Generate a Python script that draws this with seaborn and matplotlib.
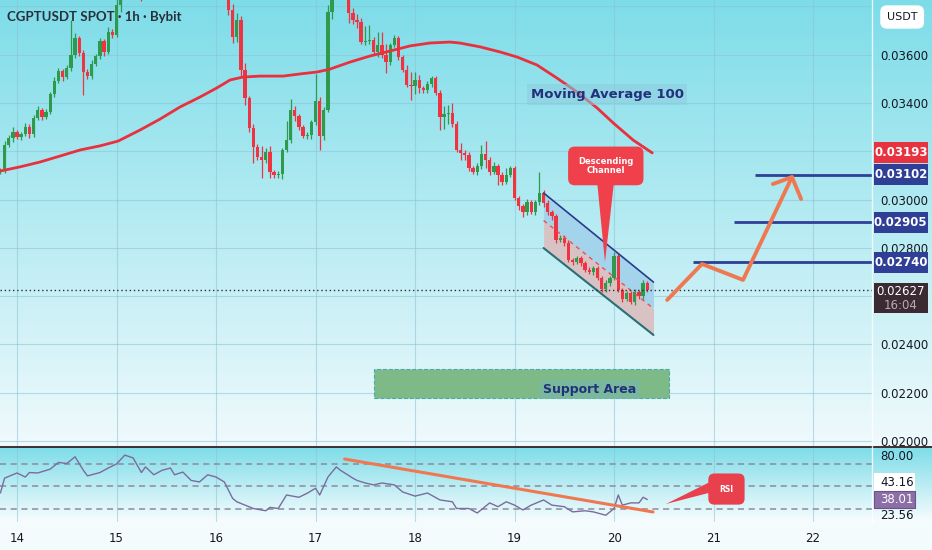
import matplotlib
matplotlib.use("Agg")
import matplotlib.pyplot as plt
import numpy as np
import seaborn as sns
from matplotlib.patches import Rectangle, Polygon
from matplotlib.lines import Line2D
from matplotlib.transforms import blended_transform_factory

sns.set_style("white")
plt.rcParams['font.family'] = ['DejaVu Sans']

# ---- data (prices in 1e-5 USDT, hours counted from day 14 00:00) ----
first_open_e5 = 3115
close_e5 = [
    3122, 3226, 3255, 3280, 3259, 3271, 3300, 3271, 3338, 3371,
    3342, 3362, 3437, 3491, 3532, 3507, 3545, 3598, 3669, 3607,
    3528, 3511, 3561, 3594, 3656, 3611, 3694, 3681, 3805, 3909,
    3950, 3990, 4020, 3980, 3940, 3970, 4010, 4060, 4100, 4080,
    4120, 4150, 4110, 4090, 4130, 4170, 4140, 4100, 4060, 4020,
    3990, 3960, 3930, 3900, 3880, 3785, 3673, 3743, 3536, 3420,
    3296, 3217, 3176, 3164, 3197, 3114, 3102, 3106, 3205, 3246,
    3371, 3346, 3300, 3263, 3267, 3321, 3408, 3263, 3371, 3776,
    3888, 3950, 3930, 3868, 3772, 3743, 3735, 3652, 3655, 3661,
    3611, 3640, 3598, 3569, 3640, 3669, 3590, 3536, 3474, 3470,
    3495, 3462, 3453, 3478, 3503, 3441, 3342, 3354, 3358, 3313,
    3205, 3193, 3184, 3130, 3114, 3139, 3188, 3164, 3114, 3139,
    3102, 3073, 3102, 3130, 3006, 2973, 2948, 2990, 2948, 2990,
    3027, 2986, 2948, 2932, 2832, 2841, 2820, 2750, 2741, 2758,
    2737, 2708, 2700, 2716, 2675, 2629, 2654, 2675, 2766, 2625,
    2588, 2613, 2576, 2617, 2600, 2654, 2627,
]
wick_hi_e5 = [
    10, 15, 12, 20, 8, 10, 15, 12, 10, 18,
    8, 12, 10, 15, 12, 10, 14, 145, 20, 8,
    10, 12, 15, 10, 12, 8, 20, 10, 40, 30,
    30, 30, 30, 30, 30, 30, 30, 30, 30, 30,
    30, 30, 30, 30, 30, 30, 30, 30, 30, 30,
    30, 30, 30, 30, 30, 40, 25, 30, 15, 30,
    10, 15, 12, 45, 15, 25, 10, 12, 8, 80,
    45, 15, 10, 8, 12, 10, 110, 15, 10, 30,
    30, 30, 30, 30, 40, 20, 25, 15, 65, 62,
    12, 55, 55, 45, 10, 12, 10, 10, 20, 55,
    33, 20, 10, 12, 10, 8, 12, 35, 33, 40,
    10, 29, 10, 12, 8, 12, 37, 54, 10, 15,
    10, 12, 29, 10, 10, 8, 10, 12, 10, 10,
    87, 12, 10, 10, 10, 12, 10, 12, 8, 10,
    10, 10, 12, 8, 10, 10, 12, 10, 16, 12,
    10, 8, 10, 12, 8, 12, 10,
]
wick_lo_e5 = [
    10, 12, 10, 15, 8, 12, 10, 15, 12, 10,
    12, 8, 10, 12, 10, 15, 10, 12, 10, 12,
    95, 10, 12, 10, 12, 15, 10, 12, 10, 30,
    30, 30, 30, 30, 120, 30, 30, 30, 30, 30,
    30, 30, 30, 30, 30, 30, 30, 30, 30, 30,
    30, 30, 30, 30, 30, 20, 25, 20, 25, 29,
    15, 66, 12, 75, 12, 25, 15, 12, 20, 10,
    12, 20, 12, 10, 12, 15, 12, 58, 15, 10,
    30, 30, 30, 30, 40, 15, 25, 10, 12, 10,
    12, 20, 12, 45, 12, 10, 12, 10, 10, 60,
    35, 20, 12, 10, 12, 10, 55, 50, 40, 12,
    10, 29, 20, 12, 10, 12, 12, 33, 12, 10,
    40, 12, 10, 10, 10, 17, 20, 12, 10, 12,
    12, 15, 12, 15, 12, 10, 12, 10, 12, 10,
    12, 10, 10, 12, 10, 10, 12, 12, 10, 10,
    12, 10, 10, 12, 10, 12, 10,
]

ma_hours = [-4, 0.7, 5.5, 10.4, 15.2, 20, 24.4, 29.7, 34.5, 39.3, 44.1, 48.2, 51.4,
            54.5, 58.6, 64.2, 68.3, 72.4, 75.5, 80.3, 85.1, 90, 94.8, 99.6, 104.4,
            106.8, 111.7, 116.5, 120.6, 125.4, 130.2, 135.1, 139.9, 143.8, 148.6, 153.2]
ma_e5 = [3118, 3135, 3155, 3180, 3205, 3222, 3242, 3288, 3333, 3383, 3424, 3462, 3495,
         3507, 3511, 3511, 3520, 3528, 3540, 3569, 3594, 3615, 3636, 3648, 3652,
         3648, 3632, 3611, 3590, 3557, 3503, 3445, 3379, 3317, 3246, 3193]

rsi_hours = [-4, -3, 0, 2, 3, 5, 8, 10, 12, 14, 16, 17, 20, 22, 24, 26, 28, 30, 31, 33,
             35, 37, 38, 40, 42, 44, 46, 48, 50, 52, 53, 55, 57, 60, 61, 63, 65, 68, 70, 72,
             73, 75, 77, 78, 81, 82, 84, 86, 88, 91, 93, 96, 99, 102, 105, 106, 109, 111,
             114, 116, 118, 120, 122, 124, 127, 129, 132, 134, 137, 139, 142, 144, 145,
             146, 148, 150, 151, 152]
rsi_values = [43.8, 57, 61.6, 58, 62, 61.6, 65, 71, 70, 76, 64, 59, 62, 66, 69.6, 77.5,
              75, 62, 67, 60, 64, 66, 60, 62.4, 55, 53.6, 60, 58, 53.6, 39, 36, 33, 30,
              28, 31, 30, 42, 40, 43.6, 48, 42, 58, 67, 64, 57, 55, 52.7, 51, 52.7, 51,
              44.7, 41, 43.8, 37.6, 36, 30, 30, 26, 35, 31.6, 36, 33, 28.7, 33, 37.6, 33,
              31.6, 27, 28, 27, 24, 30, 42, 33, 35, 35, 40, 38.01]
rsi_levels = [70, 50, 30]
rsi_trend_hours = [79, 153.4]
rsi_trend_values = [74, 26.9]

day_labels = ['14', '15', '16', '17', '18', '19', '20', '21', '22']
day_hours = [0, 24, 48, 72, 96, 120, 144, 168, 192]

channel_hours = [127, 153.5]
channel_upper = [0.03027, 0.02658]
channel_lower = [0.02799, 0.02439]

targets = [0.03102, 0.02905, 0.02740]
target_start = [178, 172.9, 163.1]
path_hours = [156.8, 165.2, 175.1, 186.9]
path_prices = [0.02584, 0.02733, 0.02667, 0.03093]
arrow_hours = [182.3, 186.9, 189.1]
arrow_prices = [0.03064, 0.03093, 0.03002]

support_hours = [86.1, 157.3]
support_prices = [0.0218, 0.0230]

last_price = 0.02627
ma_last = 0.03193

# ---- derived series ----
close = np.array(close_e5) / 1e5
opens = np.concatenate([[first_open_e5 / 1e5], close[:-1]])
highs = np.maximum(opens, close) + np.array(wick_hi_e5) / 1e5
lows = np.minimum(opens, close) - np.array(wick_lo_e5) / 1e5
hours = np.arange(len(close)) - 4
ma = np.array(ma_e5) / 1e5
channel_mid = [(u + l) / 2 for u, l in zip(channel_upper, channel_lower)]

GREEN = '#2f9a4c'
RED = '#ef3340'
NAVY = '#2f3f96'
ORANGE = '#f07850'
TXT = '#131722'
XL = (-4.1, 206.2)

fig = plt.figure(figsize=(9.32, 5.5), dpi=100)
fig.patch.set_facecolor('#f4fbfc')


def gradient(rect, top, bottom):
    bg = fig.add_axes(rect, zorder=0)
    g = np.linspace(0, 1, 256)[:, None, None]
    cols = np.array(top)[None, None, :] * (1 - g) + np.array(bottom)[None, None, :] * g
    bg.imshow(cols, aspect='auto', extent=[0, 1, 0, 1])
    bg.axis('off')


main_rect = [0, 1 - 446 / 550, 872 / 932, 446 / 550]
rsi_rect = [0, 1 - 522 / 550, 872 / 932, 75 / 550]
gradient([0, main_rect[1], 1, main_rect[3]], (0.49, 0.865, 0.912), (0.94, 0.98, 0.99))
gradient([0, rsi_rect[1], 1, rsi_rect[3]], (0.49, 0.865, 0.912), (0.97, 0.99, 0.995))

# ---- main price pane ----
ax = fig.add_axes(main_rect, zorder=2)
ax.patch.set_alpha(0)
ax.set_xlim(*XL)
ax.set_ylim(0.019793, 0.038261)
for s in ax.spines.values():
    s.set_visible(False)

yt = np.round(np.arange(0.020, 0.0381, 0.002), 3)
ax.set_yticks(yt)
ax.set_yticklabels(['0.02000', '0.02200', '0.02400', '', '0.02800', '0.03000', '',
                    '0.03400', '0.03600', ''])
ax.yaxis.tick_right()
ax.tick_params(axis='y', length=0, pad=6, labelsize=8.5, labelcolor=TXT)
ax.set_xticks(day_hours)
ax.set_xticklabels([])
ax.tick_params(axis='x', length=0)
ax.grid(True, color=(0.55, 0.76, 0.83), lw=0.8, alpha=0.55)
ax.set_axisbelow(True)

# channel fill (under candles)
ax.fill_between(channel_hours, channel_upper, channel_mid,
                color=(0.64, 0.83, 0.92), zorder=2, lw=0)
ax.fill_between(channel_hours, channel_mid, channel_lower,
                color=(0.85, 0.76, 0.77), zorder=2, lw=0)

# candles
up = close >= opens
colors = np.where(up, GREEN, RED)
ax.vlines(hours, lows, highs, colors=colors, lw=0.9, zorder=3)
ax.bar(hours, np.maximum(np.abs(close - opens), 0.00002), bottom=np.minimum(opens, close),
       width=0.8, color=colors, zorder=3, lw=0)

# channel lines
ax.plot(channel_hours, channel_upper, color='#2b3a8c', lw=1.2, zorder=4)
ax.plot(channel_hours, channel_lower, color='#2b6f74', lw=1.5, zorder=4)
ax.plot(channel_hours, channel_mid, color='#e8505a', lw=1, ls=(0, (3, 3)), zorder=4)

# moving average
sns.lineplot(x=ma_hours, y=ma, ax=ax, color='#e8303e', lw=2, zorder=4)

# last price
ax.axhline(last_price, color='#2a2e39', ls=(0, (1, 2)), lw=1, zorder=4)

# support area
ax.add_patch(Rectangle((support_hours[0], support_prices[0]),
                       support_hours[1] - support_hours[0],
                       support_prices[1] - support_prices[0],
                       fc=(0.49, 0.73, 0.53), ec=(0.3, 0.66, 0.66), lw=0.8, ls='--', zorder=2))
ax.text(138.2, 0.02212, 'Support Area', ha='center', va='center', fontsize=9,
        fontweight='bold', color='#23307a', zorder=5,
        bbox=dict(boxstyle='square,pad=0.25', fc=(0.47, 0.72, 0.64), ec='none', alpha=0.8))

ax.text(142.3, 0.03433, 'Moving Average 100', ha='center', va='center', fontsize=9.5,
        fontweight='bold', color='#23307a', zorder=5,
        bbox=dict(boxstyle='square,pad=0.3', fc=(0.55, 0.80, 0.87), ec='none', alpha=0.55))

# target levels and projected path
for p, t0 in zip(targets, target_start):
    ax.plot([t0, XL[1]], [p, p], color=NAVY, lw=2, zorder=4, solid_capstyle='butt')
sns.lineplot(x=path_hours, y=path_prices, ax=ax, color=ORANGE, lw=2.8, zorder=5, sort=False)
ax.plot(arrow_hours, arrow_prices, color=ORANGE, lw=2.8, zorder=5, solid_capstyle='round')

# descending channel callout
ax.add_patch(Polygon([(139.9, 0.03075), (144.0, 0.03075), (141.8, 0.02741)],
                     closed=True, fc='#f0404c', ec='none', zorder=6))
ax.text(142.0, 0.03139, 'Descending\nChannel', ha='center', va='center', fontsize=6,
        fontweight='bold', color='white', linespacing=1.1, zorder=7,
        bbox=dict(boxstyle='round,pad=1.2,rounding_size=0.8', fc='#f0404c', ec='none'))

ax.set_xlabel('')
ax.set_ylabel('')

# price axis tags
tr = blended_transform_factory(ax.transAxes, ax.transData)


def tag(center, text, fc, h=0.00087, size=8.5):
    ax.add_patch(Rectangle((1.002, center - h / 2), 0.062, h, transform=tr, fc=fc,
                           ec='none', clip_on=False, zorder=6))
    ax.text(1.033, center, text, transform=tr, ha='center', va='center', color='white',
            fontsize=size, fontweight='bold', clip_on=False, zorder=7)


tag(ma_last, f'{ma_last:.5f}', '#e8323f')
for p in targets:
    tag(p, f'{p:.5f}', NAVY)
ax.add_patch(Rectangle((1.002, 0.02530), 0.062, 0.00124, transform=tr, fc='#3b2a31',
                       ec='none', clip_on=False, zorder=6))
ax.text(1.033, 0.02621, f'{last_price:.5f}', transform=tr, ha='center', va='center',
        color='white', fontsize=8.5, clip_on=False, zorder=7)
ax.text(1.033, 0.02563, '16:04', transform=tr, ha='center', va='center',
        color='#b8aab4', fontsize=8.5, clip_on=False, zorder=7)

fig.text(0.968, 1 - 17 / 550, 'USDT', ha='center', va='center', fontsize=8, color=TXT,
         bbox=dict(boxstyle='round,pad=0.6', fc='white', ec='none'), zorder=8)

fig.text(7 / 932, 1 - 17 / 550, 'CGPTUSDT SPOT · 1h · Bybit', ha='left', va='center',
         fontsize=9.5, fontweight='bold', color='#2a2e39', family=['Lato', 'DejaVu Sans'],
         zorder=8)

# ---- RSI pane ----
ax2 = fig.add_axes(rsi_rect, zorder=2)
ax2.patch.set_alpha(0)
ax2.set_xlim(*XL)
ax2.set_ylim(18, 84.7)
for s in ax2.spines.values():
    s.set_visible(False)
ax2.set_yticks([])
ax2.set_xticks(day_hours)
ax2.set_xticklabels(day_labels)
ax2.tick_params(axis='x', length=0, pad=7, labelsize=8.5, labelcolor=TXT)
ax2.grid(True, axis='x', color=(0.55, 0.76, 0.83), lw=0.8, alpha=0.55)
ax2.set_axisbelow(True)
for lv in rsi_levels:
    ax2.axhline(lv, color='#8c8a9e', ls=(0, (4, 3)), lw=1.1, zorder=2)

sns.lineplot(x=rsi_hours, y=rsi_values, ax=ax2, color='#7a6c9e', lw=1, zorder=3)
sns.lineplot(x=rsi_trend_hours, y=rsi_trend_values, ax=ax2, color=ORANGE, lw=2.2, zorder=4)

ax2.add_patch(Polygon([(169.5, 58), (169.5, 46.4), (156.5, 34)], closed=True,
                      fc='#e8404c', ec='none', zorder=5))
ax2.text(171.1, 47.3, 'RSI', ha='center', va='center', fontsize=5.5, fontweight='bold',
         color='white', zorder=6,
         bbox=dict(boxstyle='round,pad=1.45,rounding_size=0.8', fc='#e8404c', ec='none'))
ax2.set_xlabel('')
ax2.set_ylabel('')

tr2 = blended_transform_factory(ax2.transAxes, ax2.transData)
ax2.text(1.0092, 76.5, '80.00', transform=tr2, ha='left', va='center', fontsize=8.5,
         color=TXT, clip_on=False)
ax2.text(1.0092, 23.56, '23.56', transform=tr2, ha='left', va='center', fontsize=8.5,
         color=TXT, clip_on=False)
ax2.add_patch(Rectangle((1.002, 44.5), 0.047, 17.5, transform=tr2, fc='white', ec='none',
                        clip_on=False, zorder=5))
ax2.text(1.0092, 53.2, '43.16', transform=tr2, ha='left', va='center', fontsize=8.5,
         color=TXT, clip_on=False, zorder=6)
ax2.add_patch(Rectangle((1.002, 30.5), 0.047, 15, transform=tr2, fc='#8c6fa6',
                        ec='#6d5288', lw=0.8, clip_on=False, zorder=5))
ax2.text(1.0092, 38.01, '38.01', transform=tr2, ha='left', va='center', fontsize=8.5,
         color='white', clip_on=False, zorder=6)

# pane separators
fig.add_artist(Line2D([0, 1], [1 - 446.5 / 550] * 2, color='#3b2f33', lw=1.4, zorder=9))
fig.add_artist(Line2D([872 / 932] * 2, [rsi_rect[1], 1], color='white', lw=1, alpha=0.8,
                      zorder=9))

fig.savefig('out.png', dpi=100, facecolor=fig.get_facecolor())
